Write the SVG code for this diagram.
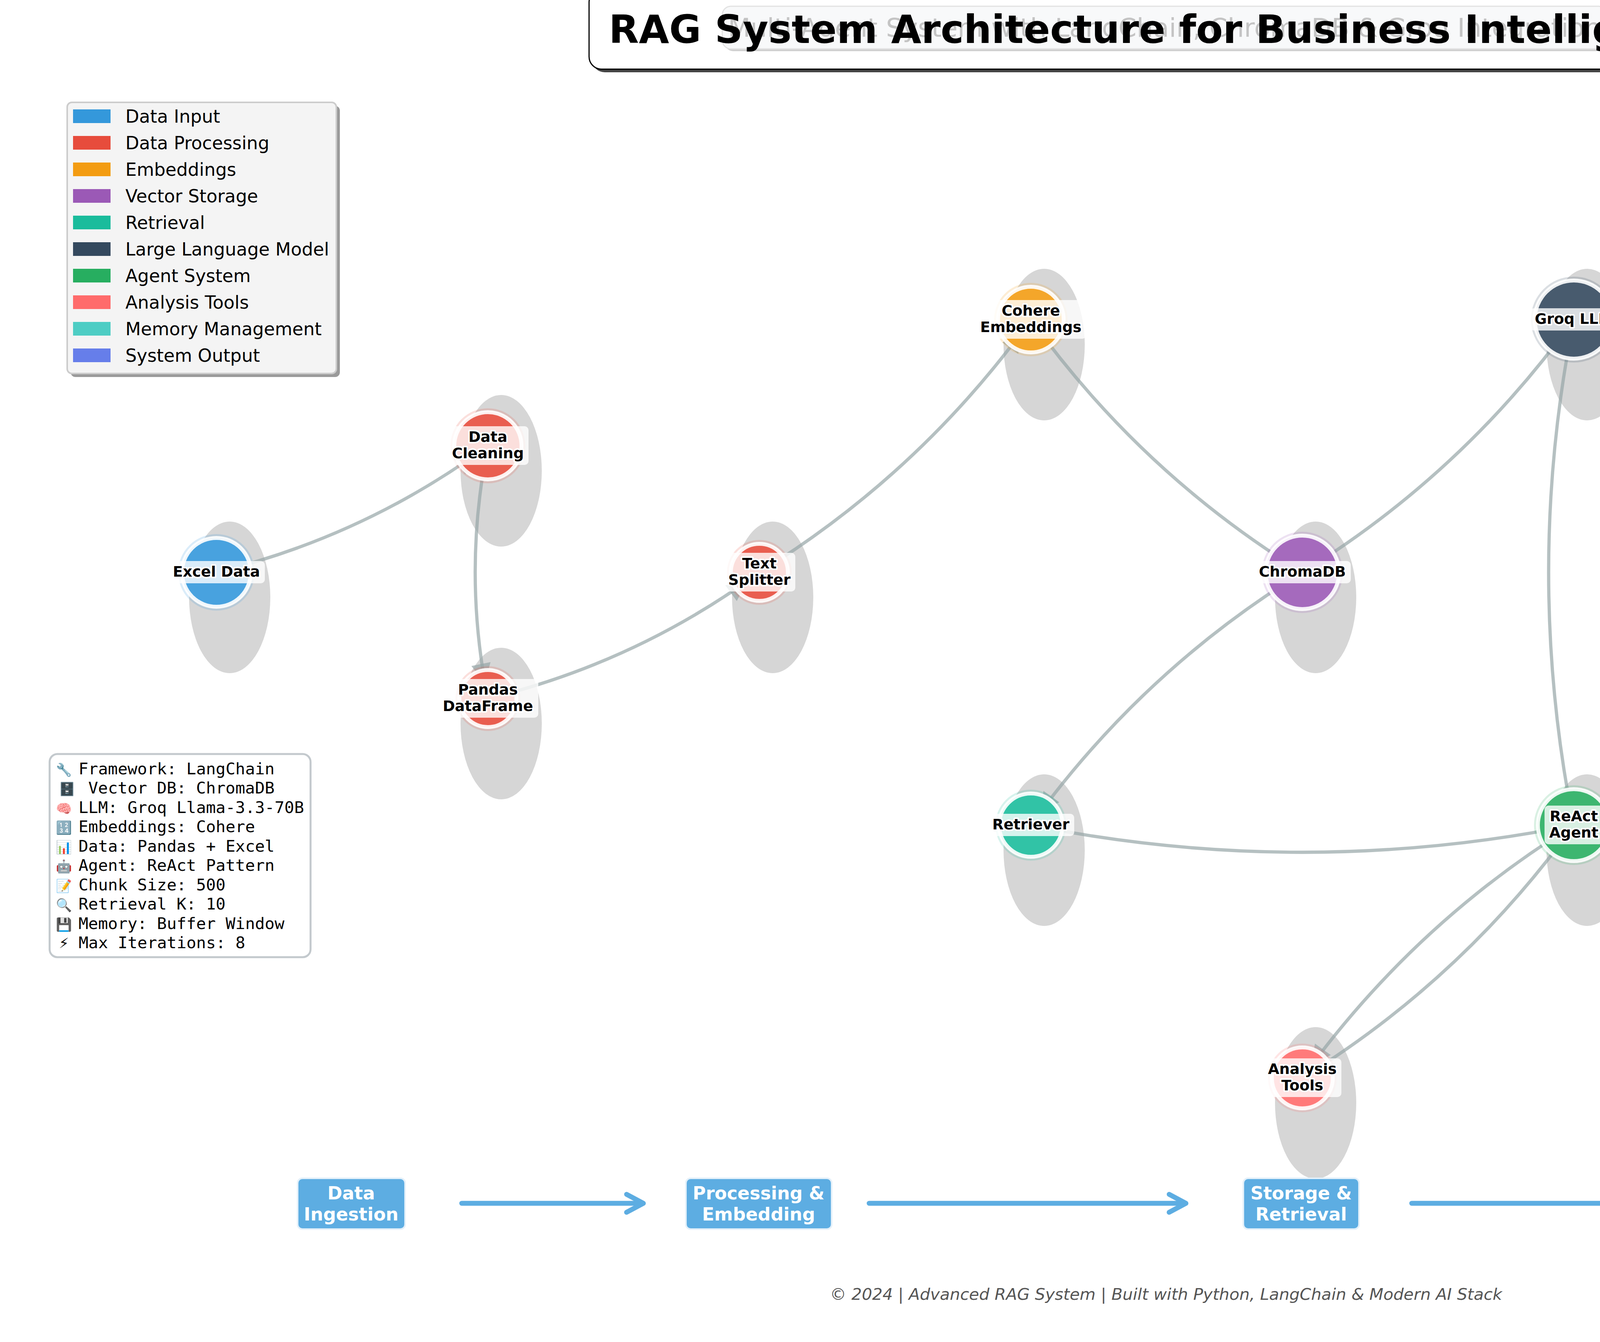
<svg xmlns="http://www.w3.org/2000/svg" width="5970" height="3435" viewBox="0 0 5970 3435">
<defs>
<style>
.shadow{fill:#d6d6d6}
.edge{fill:none;stroke:#95a5a6;stroke-opacity:0.7;stroke-width:8.3;marker-end:url(#ah)}
.ring{stroke:#ffffff;stroke-width:10;stroke-opacity:0.9}
.halo{fill-opacity:0.18}
.lblbox{fill:#ffffff;fill-opacity:0.8}
.lbl{font-family:'DejaVu Sans',sans-serif;font-weight:bold;font-size:37.5px;fill:#000;stroke:#fff;stroke-width:8;stroke-linejoin:round;paint-order:stroke;text-anchor:middle}
.leg{font-family:'DejaVu Sans',sans-serif;font-size:45.8px;fill:#000}
.mono{font-family:'DejaVu Sans Mono',monospace;font-size:41.7px;fill:#000}
.monoR{font-family:'DejaVu Sans Mono',monospace;font-size:41.7px;fill:#000;text-anchor:end}
.emo{font-size:33px}
.stage rect{fill:#5dade2;stroke:#e3f0fa;stroke-width:4}
.stage text{font-family:'DejaVu Sans',sans-serif;font-weight:bold;font-size:45.8px;fill:#fff;text-anchor:middle}
.flow{stroke:#5dade2;stroke-width:12.5;fill:none;stroke-linecap:round;stroke-linejoin:round}
</style>
<marker id="ah" markerUnits="userSpaceOnUse" viewBox="-100 -30 110 60" refX="0" refY="0" markerWidth="110" markerHeight="60" orient="auto" overflow="visible">
<path d="M-40,0 L-90,-25 L-90,25 Z" fill="#95a5a6" fill-opacity="0.7"/>
</marker>
</defs>
<rect x="0" y="0" width="5970" height="3435" fill="#ffffff"/>

<g id="title">
<rect x="1516" y="-18" width="2954" height="203" rx="32" fill="#444"/>
<rect x="1508" y="-26" width="2954" height="203" rx="32" fill="#fff" stroke="#000" stroke-width="3"/>
<rect x="1855" y="22" width="2265" height="109" rx="22" fill="#d0d0d0"/>
<rect x="1849" y="16" width="2265" height="109" rx="22" fill="#f8f9fa" stroke="#e2e2e2" stroke-width="3"/>
<text x="2981" y="94" font-family="'DejaVu Sans',sans-serif" font-size="66.7" fill="#c4c4c4" text-anchor="middle">Multi-Agent System with LangChain, ChromaDB &amp; Groq Integration</text>
<text x="2986" y="110" font-family="'DejaVu Sans',sans-serif" font-size="100" font-weight="bold" fill="#000" text-anchor="middle">RAG System Architecture for Business Intelligence</text>
</g>

<g id="node-shadows">
<ellipse class="shadow" cx="588" cy="1529" rx="104" ry="194"/>
<ellipse class="shadow" cx="1283" cy="1205" rx="104" ry="194"/>
<ellipse class="shadow" cx="1283" cy="1852" rx="104" ry="194"/>
<ellipse class="shadow" cx="1978" cy="1529" rx="104" ry="194"/>
<ellipse class="shadow" cx="2673" cy="882" rx="104" ry="194"/>
<ellipse class="shadow" cx="3368" cy="1529" rx="104" ry="194"/>
<ellipse class="shadow" cx="4063" cy="882" rx="104" ry="194"/>
<ellipse class="shadow" cx="2673" cy="2176" rx="104" ry="194"/>
<ellipse class="shadow" cx="4063" cy="2176" rx="104" ry="194"/>
<ellipse class="shadow" cx="3368" cy="2823" rx="104" ry="194"/>
<ellipse class="shadow" cx="4758" cy="1529" rx="104" ry="194"/>
<ellipse class="shadow" cx="5453" cy="1529" rx="104" ry="194"/>
</g>

<g id="connectors">
<path class="edge" d="M554,1465 Q934,1372.5 1249,1141"/>
<path class="edge" d="M1249,1141 Q1184,1464.5 1249,1788"/>
<path class="edge" d="M1249,1788 Q1629,1696 1944,1465"/>
<path class="edge" d="M1944,1465 Q2356,1211 2639,818"/>
<path class="edge" d="M2639,818 Q2922,1211 3334,1465"/>
<path class="edge" d="M3334,1465 Q3746,1211 4029,818"/>
<path class="edge" d="M3334,1465 Q2922,1719 2639,2112"/>
<path class="edge" d="M2639,2112 Q3334,2251 4029,2112"/>
<path class="edge" d="M4029,818 Q3900,1465 4029,2112"/>
<path class="edge" d="M4029,2112 Q4441,1858 4724,1465"/>
<path class="edge" d="M4029,2112 Q4789,1927.5 5419,1465"/>
<path class="edge" d="M4724,1465 Q5071.5,1534.5 5419,1465"/>
<path class="edge" d="M4029,2112 Q3617,2366 3334,2759"/>
<path class="edge" d="M3334,2759 Q3746,2505 4029,2112"/>
</g>

<g id="node-excel-data">
<circle class="halo" cx="554" cy="1465" r="98" fill="#3498db"/>
<circle class="ring" cx="554" cy="1465" r="88" fill="#48a2df"/>
<rect class="lblbox" x="430" y="1436" width="248" height="57" rx="10"/>
<text class="lbl" x="554" y="1476">Excel Data</text>
</g>
<g id="node-data-cleaning">
<circle class="halo" cx="1249" cy="1141" r="96" fill="#e74c3c"/>
<circle class="ring" cx="1249" cy="1141" r="86" fill="#e95e50"/>
<rect class="lblbox" x="1145" y="1091" width="208" height="99" rx="10"/>
<text class="lbl" x="1249" y="1131">Data<tspan x="1249" y="1173">Cleaning</tspan></text>
</g>
<g id="node-pandas-dataframe">
<circle class="halo" cx="1249" cy="1788" r="83" fill="#e74c3c"/>
<circle class="ring" cx="1249" cy="1788" r="73" fill="#e95e50"/>
<rect class="lblbox" x="1120" y="1738" width="258" height="99" rx="10"/>
<text class="lbl" x="1249" y="1778">Pandas<tspan x="1249" y="1820">DataFrame</tspan></text>
</g>
<g id="node-text-splitter">
<circle class="halo" cx="1944" cy="1465" r="83" fill="#e74c3c"/>
<circle class="ring" cx="1944" cy="1465" r="73" fill="#e95e50"/>
<rect class="lblbox" x="1852" y="1415" width="184" height="99" rx="10"/>
<text class="lbl" x="1944" y="1455">Text<tspan x="1944" y="1497">Splitter</tspan></text>
</g>
<g id="node-cohere-embeddings">
<circle class="halo" cx="2639" cy="818" r="94" fill="#f39c12"/>
<circle class="ring" cx="2639" cy="818" r="84" fill="#f4a62a"/>
<rect class="lblbox" x="2497" y="768" width="284" height="99" rx="10"/>
<text class="lbl" x="2639" y="808">Cohere<tspan x="2639" y="850">Embeddings</tspan></text>
</g>
<g id="node-chromadb">
<circle class="halo" cx="3334" cy="1465" r="104" fill="#9b59b6"/>
<circle class="ring" cx="3334" cy="1465" r="94" fill="#a56abd"/>
<rect class="lblbox" x="3210" y="1436" width="248" height="57" rx="10"/>
<text class="lbl" x="3334" y="1476">ChromaDB</text>
</g>
<g id="node-groq-llm">
<circle class="halo" cx="4029" cy="818" r="110" fill="#34495e"/>
<circle class="ring" cx="4029" cy="818" r="100" fill="#485b6e"/>
<rect class="lblbox" x="3917" y="789" width="224" height="57" rx="10"/>
<text class="lbl" x="4029" y="829">Groq LLM</text>
</g>
<g id="node-retriever">
<circle class="halo" cx="2639" cy="2112" r="91" fill="#1abc9c"/>
<circle class="ring" cx="2639" cy="2112" r="81" fill="#31c3a6"/>
<rect class="lblbox" x="2528" y="2083" width="222" height="57" rx="10"/>
<text class="lbl" x="2639" y="2123">Retriever</text>
</g>
<g id="node-react-agent">
<circle class="halo" cx="4029" cy="2112" r="102" fill="#27ae60"/>
<circle class="ring" cx="4029" cy="2112" r="92" fill="#3db670"/>
<rect class="lblbox" x="3954" y="2062" width="150" height="99" rx="10"/>
<text class="lbl" x="4029" y="2102">ReAct<tspan x="4029" y="2144">Agent</tspan></text>
</g>
<g id="node-analysis-tools">
<circle class="halo" cx="3334" cy="2759" r="88" fill="#ff6b6b"/>
<circle class="ring" cx="3334" cy="2759" r="78" fill="#ff7a7a"/>
<rect class="lblbox" x="3234" y="2709" width="200" height="99" rx="10"/>
<text class="lbl" x="3334" y="2749">Analysis<tspan x="3334" y="2791">Tools</tspan></text>
</g>
<g id="node-memory-buffer">
<circle class="halo" cx="4724" cy="1465" r="76" fill="#4ecdc4"/>
<circle class="ring" cx="4724" cy="1465" r="66" fill="#60d2ca"/>
<rect class="lblbox" x="4627" y="1415" width="194" height="99" rx="10"/>
<text class="lbl" x="4724" y="1455">Memory<tspan x="4724" y="1497">Buffer</tspan></text>
</g>
<g id="node-final-response">
<circle class="halo" cx="5419" cy="1465" r="96" fill="#667eea"/>
<circle class="ring" cx="5419" cy="1465" r="86" fill="#758bec"/>
<rect class="lblbox" x="5305" y="1415" width="228" height="99" rx="10"/>
<text class="lbl" x="5419" y="1455">Final<tspan x="5419" y="1497">Response</tspan></text>
</g>

<g id="legend">
<rect x="181" y="271" width="689" height="694" rx="12" fill="#9a9a9a"/>
<rect x="172" y="262" width="689" height="694" rx="12" fill="#f4f4f4" stroke="#cccccc" stroke-width="4"/>
<rect x="187" y="280" width="96" height="35" fill="#3498db"/>
<text class="leg" x="321" y="314">Data Input</text>
<rect x="187" y="348" width="96" height="35" fill="#e74c3c"/>
<text class="leg" x="321" y="382">Data Processing</text>
<rect x="187" y="416" width="96" height="35" fill="#f39c12"/>
<text class="leg" x="321" y="450">Embeddings</text>
<rect x="187" y="484" width="96" height="35" fill="#9b59b6"/>
<text class="leg" x="321" y="518">Vector Storage</text>
<rect x="187" y="552" width="96" height="35" fill="#1abc9c"/>
<text class="leg" x="321" y="586">Retrieval</text>
<rect x="187" y="620" width="96" height="35" fill="#34495e"/>
<text class="leg" x="321" y="654">Large Language Model</text>
<rect x="187" y="688" width="96" height="35" fill="#27ae60"/>
<text class="leg" x="321" y="722">Agent System</text>
<rect x="187" y="756" width="96" height="35" fill="#ff6b6b"/>
<text class="leg" x="321" y="790">Analysis Tools</text>
<rect x="187" y="824" width="96" height="35" fill="#4ecdc4"/>
<text class="leg" x="321" y="858">Memory Management</text>
<rect x="187" y="892" width="96" height="35" fill="#667eea"/>
<text class="leg" x="321" y="926">System Output</text>
</g>

<g id="performance-metrics">
<rect x="5177" y="217" width="669" height="425" rx="26" fill="#e8f5e9" stroke="#2fb266" stroke-width="6"/>
<text class="monoR" x="5824" y="271"><tspan class="emo">📈</tspan> PERFORMANCE METRICS</text>
<text class="monoR" x="5824" y="319">────────────────────</text>
<text class="monoR" x="5824" y="367"><tspan class="emo">🎯</tspan> Accuracy: 92%</text>
<text class="monoR" x="5824" y="416">⚡ Response Time: &lt;2s</text>
<text class="monoR" x="5824" y="465"><tspan class="emo">📊</tspan> Confidence: 0.89</text>
<text class="monoR" x="5824" y="513"><tspan class="emo">✅</tspan> Success Rate: 95%</text>
<text class="monoR" x="5824" y="562"><tspan class="emo">🔄</tspan> Scalability: High</text>
<text class="monoR" x="5824" y="610"><tspan class="emo">🛡️</tspan> Error Handling: Robust</text>
</g>

<g id="tech-stack">
<rect x="127" y="1930" width="668" height="520" rx="20" fill="#ffffff" stroke="#c3c9cd" stroke-width="5"/>
<text class="mono" y="1982"><tspan class="emo" x="143">🔧 </tspan><tspan x="201">Framework: LangChain</tspan></text>
<text class="mono" y="2031"><tspan class="emo" x="151">🗄️ </tspan><tspan x="226">Vector DB: ChromaDB</tspan></text>
<text class="mono" y="2081"><tspan class="emo" x="143">🧠 </tspan><tspan x="201">LLM: Groq Llama-3.3-70B</tspan></text>
<text class="mono" y="2130"><tspan class="emo" x="143">🔢 </tspan><tspan x="201">Embeddings: Cohere</tspan></text>
<text class="mono" y="2180"><tspan class="emo" x="143">📊 </tspan><tspan x="201">Data: Pandas + Excel</tspan></text>
<text class="mono" y="2229"><tspan class="emo" x="143">🤖 </tspan><tspan x="201">Agent: ReAct Pattern</tspan></text>
<text class="mono" y="2279"><tspan class="emo" x="143">📝 </tspan><tspan x="201">Chunk Size: 500</tspan></text>
<text class="mono" y="2328"><tspan class="emo" x="143">🔍 </tspan><tspan x="201">Retrieval K: 10</tspan></text>
<text class="mono" y="2378"><tspan class="emo" x="143">💾 </tspan><tspan x="201">Memory: Buffer Window</tspan></text>
<text class="mono" x="151" y="2427">⚡ Max Iterations: 8</text>
</g>

<g id="stage-data-ingestion" class="stage">
<rect x="762" y="3016" width="275" height="130" rx="12"/>
<text x="899" y="3070">Data<tspan x="899" y="3124">Ingestion</tspan></text>
</g>
<g id="stage-processing-embedding" class="stage">
<rect x="1756" y="3016" width="373" height="130" rx="12"/>
<text x="1942" y="3070">Processing &amp;<tspan x="1942" y="3124">Embedding</tspan></text>
</g>
<g id="stage-storage-retrieval" class="stage">
<rect x="3183" y="3016" width="296" height="130" rx="12"/>
<text x="3331" y="3070">Storage &amp;<tspan x="3331" y="3124">Retrieval</tspan></text>
</g>
<g id="stage-agent-execution" class="stage">
<rect x="4576" y="3016" width="290" height="130" rx="12"/>
<text x="4721" y="3070">Agent<tspan x="4721" y="3124">Execution</tspan></text>
</g>
<g id="stage-response-generation" class="stage">
<rect x="5256" y="3016" width="323" height="130" rx="12"/>
<text x="5417" y="3070">Response<tspan x="5417" y="3124">Generation</tspan></text>
</g>

<g id="stage-flow">
<line class="flow" x1="1182" y1="3080" x2="1643" y2="3080"/>
<polyline class="flow" points="1604,3057 1647,3080 1604,3103"/>
<line class="flow" x1="2225" y1="3080" x2="3032" y2="3080"/>
<polyline class="flow" points="2993,3057 3036,3080 2993,3103"/>
<line class="flow" x1="3614" y1="3080" x2="4422" y2="3080"/>
<polyline class="flow" points="4383,3057 4426,3080 4383,3103"/>
<line class="flow" x1="5004" y1="3080" x2="5118" y2="3080"/>
<polyline class="flow" points="5079,3057 5122,3080 5079,3103"/>
</g>

<g id="footer">
<text x="2985" y="3327" font-family="'DejaVu Sans',sans-serif" font-style="italic" font-size="41.7" fill="#555555" text-anchor="middle">© 2024 | Advanced RAG System | Built with Python, LangChain &amp; Modern AI Stack</text>
</g>
</svg>
